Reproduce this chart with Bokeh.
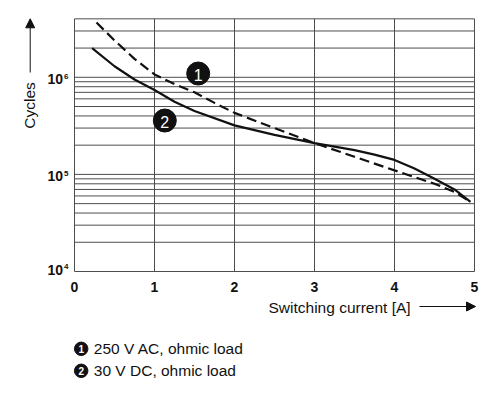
from math import pi

from bokeh.plotting import figure
from bokeh.models import Range1d, Arrow, NormalHead
from bokeh.core.properties import value
from bokeh.embed import file_html
from bokeh.resources import INLINE

# Electrical endurance: switching current [A] vs. number of cycles
current_ac = [0.275, 0.5, 0.75, 1.0, 1.25, 1.5, 1.75, 2.0, 2.5, 3.0, 3.5, 4.0, 4.5, 4.75, 4.95]
cycles_ac = [3.66e6, 2.4e6, 1.55e6, 1.07e6, 8.5e5, 7.0e5, 5.45e5, 4.3e5, 3.0e5, 2.1e5,
             1.52e5, 1.1e5, 8.0e4, 6.6e4, 5.2e4]

current_dc = [0.22, 0.5, 0.75, 1.0, 1.25, 1.5, 2.0, 2.5, 3.0, 3.5, 3.75, 4.0, 4.25, 4.5,
              4.75, 4.95]
cycles_dc = [2.0e6, 1.3e6, 9.5e5, 7.4e5, 5.6e5, 4.5e5, 3.2e5, 2.55e5, 2.1e5, 1.78e5,
             1.6e5, 1.41e5, 1.15e5, 9.0e4, 7.0e4, 5.2e4]

x_ticks = [0, 1, 2, 3, 4, 5]
x_tick_labels = ["0", "1", "2", "3", "4", "5"]
y_decades = [1e4, 1e5, 1e6]
y_exponents = ["4", "5", "6"]
y_grid = [1e4, 2e4, 3e4, 4e4, 5e4, 6e4, 7e4, 8e4, 9e4,
          1e5, 2e5, 3e5, 4e5, 5e5, 6e5, 7e5, 8e5, 9e5,
          1e6, 2e6, 3e6, 4e6]
x_min, x_max = 0, 5
y_min, y_max = 1e4, 4e6

series_names = ["250 V AC, ohmic load", "30 V DC, ohmic load"]
series_numbers = ["1", "2"]

FONT = value("Liberation Sans")
INK = "#111111"
GRID = "#4d4d4d"

W, H = 500, 396
# placement of the chart box on the canvas (px) and its scale
BOX_LEFT, BOX_BOTTOM = 74, 271
PX_PER_AMP = 80.0
PX_PER_DECADE = 97.1


def dx(px):
    """canvas x (px) -> current axis value"""
    return (px - BOX_LEFT) / PX_PER_AMP


def dy(py):
    """canvas y (px, from top) -> cycles axis value"""
    return 10 ** (4 + (BOX_BOTTOM - py) / PX_PER_DECADE)


p = figure(width=W, height=H, y_axis_type="log",
           x_range=Range1d(dx(0), dx(W)), y_range=Range1d(dy(H), dy(0)),
           x_axis_location=None, y_axis_location=None, title_location=None,
           output_backend="svg", toolbar_location=None,
           min_border=0)
p.outline_line_color = None
p.background_fill_color = "white"
p.border_fill_color = "white"
p.xgrid.visible = False
p.ygrid.visible = False

# chart box grid: vertical lines at the current ticks, horizontal at the cycle ticks
p.segment(x0=x_ticks, y0=[y_min] * len(x_ticks), x1=x_ticks, y1=[y_max] * len(x_ticks),
          line_color=GRID, line_width=1)
p.segment(x0=[x_min] * len(y_grid), y0=y_grid, x1=[x_max] * len(y_grid), y1=y_grid,
          line_color=GRID, line_width=1)

# x tick labels
p.text(x=x_ticks, y=[y_min] * len(x_ticks), text=x_tick_labels,
       text_font=FONT, text_font_size="14px", text_font_style="bold",
       text_color=INK, text_align="center", text_baseline="top", y_offset=10)

# y tick labels: 10 with a superscript exponent
p.text(x=[dx(62.5)] * 3, y=y_decades, text=["10"] * 3,
       text_font=FONT, text_font_size="14px", text_font_style="bold",
       text_color=INK, text_align="right", text_baseline="middle",
       y_offset=[-1.7, 2, 2])
p.text(x=[dx(63.6)] * 3, y=y_decades, text=y_exponents,
       text_font=FONT, text_font_size="8px", text_font_style="bold",
       text_color=INK, text_align="left", text_baseline="middle",
       y_offset=[-5, -1.3, -1.3])

# curves
p.line(current_ac, cycles_ac, line_color=INK, line_width=2.2, line_dash="10 5")
p.line(current_dc, cycles_dc, line_color=INK, line_width=2.2)

# numbered curve markers
marker_x = [dx(197.7), dx(164.3)]
marker_y = [dy(73), dy(120)]
p.scatter(marker_x, marker_y, size=23, marker="circle", fill_color=INK, line_color=INK)
p.text(x=marker_x, y=marker_y, text=series_numbers, text_font=FONT,
       text_font_size="16px", text_color="white",
       text_align="center", text_baseline="middle", y_offset=1)

# axis titles with arrows
p.text(x=[dx(28.5)], y=[dy(105)], text=["Cycles"], angle=pi / 2,
       text_font=FONT, text_font_size="15.5px", text_color=INK,
       text_align="center", text_baseline="middle")
p.add_layout(Arrow(x_start=dx(29.7), y_start=dy(72), x_end=dx(29.7), y_end=dy(18.3),
                   line_color=INK, line_width=1,
                   end=NormalHead(size=9, fill_color=INK, line_color=INK)))

p.text(x=[dx(268)], y=[dy(306.5)], text=["Switching current [A]"],
       text_font=FONT, text_font_size="15.5px", text_color=INK,
       text_align="left", text_baseline="middle")
p.add_layout(Arrow(x_start=dx(419), y_start=dy(306), x_end=dx(475), y_end=dy(306),
                   line_color=INK, line_width=1,
                   end=NormalHead(size=9, fill_color=INK, line_color=INK)))

# legend below the chart
legend_x = [dx(80.7)] * 2
legend_y = [dy(348.3), dy(370.3)]
p.scatter(legend_x, legend_y, size=13.5, marker="circle", fill_color=INK, line_color=INK)
p.text(x=legend_x, y=legend_y, text=series_numbers, text_font=FONT,
       text_font_size="10px", text_font_style="bold", text_color="white",
       text_align="center", text_baseline="middle", y_offset=0.5)
p.text(x=[dx(93.3)] * 2, y=legend_y, text=series_names,
       text_font=FONT, text_font_size="15.5px", text_color=INK,
       text_align="left", text_baseline="middle")

open("out.html", "w").write(file_html(p, INLINE))
